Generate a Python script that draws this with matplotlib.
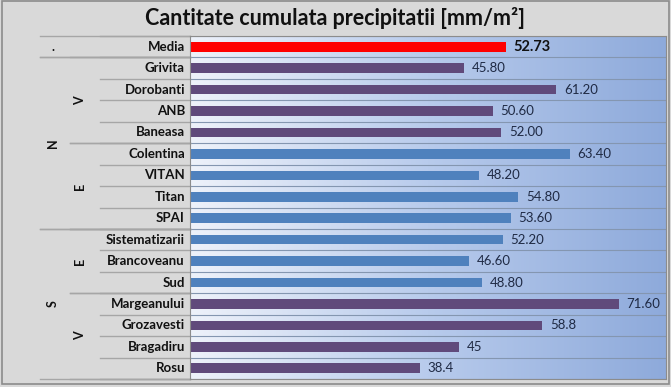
import numpy as np
import matplotlib
matplotlib.use("Agg")
import matplotlib.pyplot as plt
import matplotlib.transforms as mtransforms
from matplotlib.patches import Rectangle

plt.rcParams['font.family'] = ['Lato', 'DejaVu Sans']

# data
stations = ["Media", "Grivita", "Dorobanti", "ANB", "Baneasa", "Colentina", "VITAN",
            "Titan", "SPAI", "Sistematizarii", "Brancoveanu", "Sud", "Margeanului",
            "Grozavesti", "Bragadiru", "Rosu"]
values = [52.73, 45.80, 61.20, 50.60, 52.00, 63.40, 48.20, 54.80, 53.60,
          52.20, 46.60, 48.80, 71.60, 58.8, 45, 38.4]
value_labels = ["52.73", "45.80", "61.20", "50.60", "52.00", "63.40", "48.20", "54.80",
                "53.60", "52.20", "46.60", "48.80", "71.60", "58.8", "45", "38.4"]
# orientation group per station (V = vest, E = est), '.' for the mean
sub_groups = [".", "V", "V", "V", "V", "E", "E", "E", "E", "E", "E", "E", "V", "V", "V", "V"]
# (label, first row, last row)
main_spans = [(".", 0, 0), ("N", 1, 8), ("S", 9, 15)]
sub_spans = [("V", 1, 4), ("E", 5, 8), ("E", 9, 11), ("V", 12, 15)]

colors = {".": "#ff0000", "V": "#604a7b", "E": "#4f81bd"}
label_color = "#1f2a44"

fig = plt.figure(figsize=(6.71, 3.87), dpi=100)
fig.patch.set_facecolor("#d9d9d9")
fig.add_artist(Rectangle((0.003, 0.008), 0.994, 0.99, transform=fig.transFigure,
                         fill=False, edgecolor="#8c8c8c", linewidth=1.2))

ax = fig.add_axes([190 / 671, 1 - 379 / 387, 476 / 671, 343 / 387])
n = len(stations)
ax.set_xlim(0, 79.5)
ax.set_ylim(n - 0.5, -0.5)

# gradient background of the plot area
grad = np.linspace(0, 1, 256).reshape(1, -1)
cmap = matplotlib.colors.LinearSegmentedColormap.from_list(
    "bg", ["#eef2fa", "#b8cbec", "#8eaadb"])
ax.imshow(grad, aspect="auto", cmap=cmap, extent=[0, 79.5, n - 0.5, -0.5], zorder=0)

y = np.arange(n)
bar_colors = [colors[g] for g in sub_groups]
ax.barh(y, values, height=0.45, color=bar_colors, zorder=2)

for i, (v, lab) in enumerate(zip(values, value_labels)):
    if i == 0:
        ax.text(v + 1.3, i, lab, va="center", ha="left", fontsize=10.5,
                fontweight="bold", color="#111111")
    else:
        ax.text(v + 1.3, i, lab, va="center", ha="left", fontsize=9.5, color=label_color)

for b in np.arange(-0.5, n, 1.0):
    ax.axhline(b, color="#8496b0", linewidth=0.8, zorder=1)

ax.set_xticks([])
ax.set_yticks([])
for s in ax.spines.values():
    s.set_color("#8c8c8c")
    s.set_linewidth(0.8)

# hierarchical category labels
tr = mtransforms.blended_transform_factory(fig.transFigure, ax.transData)
for i, name in enumerate(stations):
    ax.text(185 / 671, i, name, transform=tr, ha="right", va="center",
            fontsize=9.5, fontweight="bold", color="#111111")

line_kw = dict(color="#a6a6a6", linewidth=1.0, transform=tr, clip_on=False)
# leaf separators
for b in np.arange(-0.5, n, 1.0):
    ax.plot([100 / 671, 190 / 671], [b, b], **line_kw)
# sub-group separators
for lab, a, b in sub_spans:
    ax.plot([70 / 671, 190 / 671], [a - 0.5, a - 0.5], **line_kw)
    ax.plot([70 / 671, 190 / 671], [b + 0.5, b + 0.5], **line_kw)
    ax.text(80 / 671, (a + b) / 2, lab, transform=tr, rotation=90, ha="center",
            va="center", fontsize=9, fontweight="bold", color="#111111")
# main separators
for lab, a, b in main_spans:
    ax.plot([40 / 671, 190 / 671], [a - 0.5, a - 0.5], **line_kw)
    ax.plot([40 / 671, 190 / 671], [b + 0.5, b + 0.5], **line_kw)
    ax.text(53 / 671, (a + b) / 2, lab, transform=tr, rotation=90 if lab != "." else 0,
            ha="center", va="center", fontsize=9, fontweight="bold", color="#111111")

fig.text(335 / 671, 1 - 18 / 387, "Cantitate cumulata precipitatii [mm/m²]",
         ha="center", va="center", fontsize=15.5, fontweight="bold", color="#111111")

fig.savefig("out.png", dpi=100, facecolor=fig.get_facecolor())
